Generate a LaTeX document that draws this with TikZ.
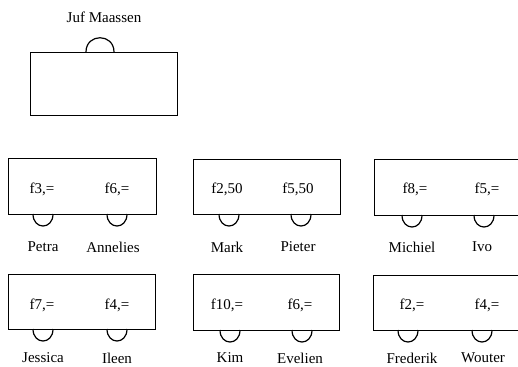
\documentclass[tikz,border=0pt]{standalone}
\usepackage{fontspec}
\setmainfont{Liberation Serif}
\begin{document}
\begin{tikzpicture}[x=1pt,y=-1pt,
  desk/.style={draw,line width=1.2pt,rectangle,inner sep=0pt,anchor=north west},
  lbl/.style={font=\fontsize{15}{17}\selectfont,inner sep=0pt},
  leg/.style={line width=1.2pt}]
\useasboundingbox (0,0) rectangle (518,366);
\clip (0,0) rectangle (518,366);

% teacher's desk
\node[lbl] (juf) at (104,17) {Juf Maassen};
\node[desk,minimum width=147pt,minimum height=63pt] (tdesk) at (29.5,52) {};
\draw[leg] (86,52) .. controls (86,33) and (114,33) .. (114,52);

% row 1
\node[desk,minimum width=148pt,minimum height=56pt] (d11) at (8,158) {};
\node[desk,minimum width=147pt,minimum height=55pt] (d12) at (193,159) {};
\node[desk,minimum width=160pt,minimum height=56pt] (d13) at (374,159) {};

\node[lbl] (p1) at (42,189) {f3,=};
\node[lbl] (p2) at (117,189) {f6,=};
\node[lbl] (p3) at (227,189) {f2,50};
\node[lbl] (p4) at (298,189) {f5,50};
\node[lbl] (p5) at (415,189) {f8,=};
\node[lbl] (p6) at (487,189) {f5,=};

\foreach \x/\b in {43/214,117/214,229/214,301/214,412/215,484/215}
  \draw[leg] (\x-10,\b) .. controls (\x-10,\b+16) and (\x+10,\b+16) .. (\x+10,\b);

\node[lbl] (n1) at (43,247) {Petra};
\node[lbl] (n2) at (113,247) {Annelies};
\node[lbl] (n3) at (227,247) {Mark};
\node[lbl] (n4) at (298,247) {Pieter};
\node[lbl] (n5) at (412,247) {Michiel};
\node[lbl] (n6) at (482,247) {Ivo};

% row 2
\node[desk,minimum width=147pt,minimum height=55pt] (d21) at (8,274) {};
\node[desk,minimum width=146pt,minimum height=56pt] (d22) at (193,274) {};
\node[desk,minimum width=160pt,minimum height=55pt] (d23) at (373,275) {};

\node[lbl] (q1) at (42,305) {f7,=};
\node[lbl] (q2) at (117,305) {f4,=};
\node[lbl] (q3) at (227,305) {f10,=};
\node[lbl] (q4) at (300,305) {f6,=};
\node[lbl] (q5) at (412,305) {f2,=};
\node[lbl] (q6) at (487,305) {f4,=};

\foreach \x/\b in {43/329,117/329,230/330,302/330,408/330,482/330}
  \draw[leg] (\x-10,\b) .. controls (\x-10,\b+16) and (\x+10,\b+16) .. (\x+10,\b);

\node[lbl] (m1) at (43,358) {Jessica};
\node[lbl] (m2) at (117,358) {Ileen};
\node[lbl] (m3) at (230,358) {Kim};
\node[lbl] (m4) at (300,358) {Evelien};
\node[lbl] (m5) at (412,358) {Frederik};
\node[lbl] (m6) at (483,358) {Wouter};
\end{tikzpicture}
\end{document}
